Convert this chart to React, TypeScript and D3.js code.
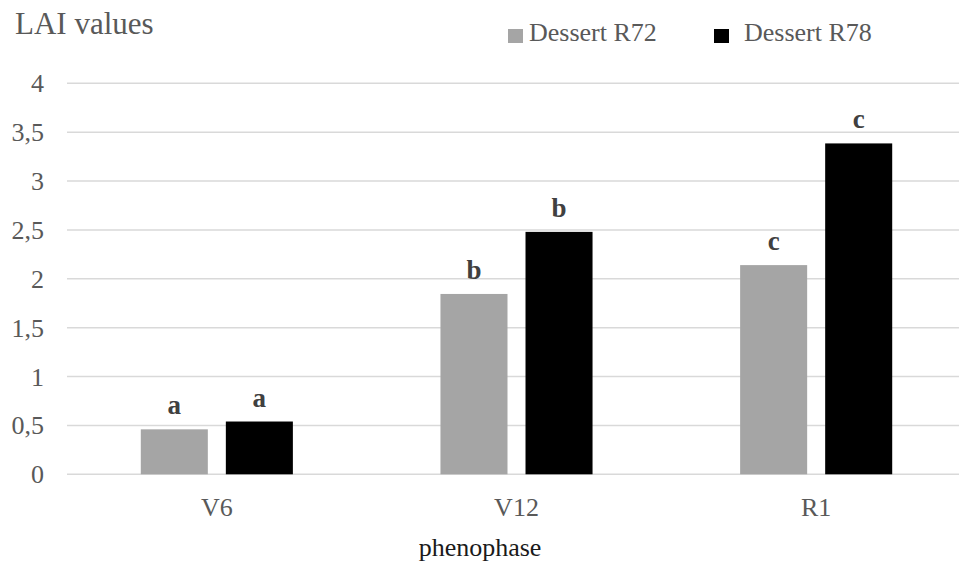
import React from "react";
import * as d3 from "d3";

const categories = ["V6", "V12", "R1"];
const seriesNames = ["Dessert R72", "Dessert R78"];
const seriesR72 = [0.46, 1.845, 2.14];
const seriesR78 = [0.54, 2.48, 3.385];
const lettersR72 = ["a", "b", "c"];
const lettersR78 = ["a", "b", "c"];
const yTicks = [0, 0.5, 1, 1.5, 2, 2.5, 3, 3.5, 4];
const colors = ["#a5a5a5", "#000000"];

const W = 959;
const H = 563;
const FONT = "'Liberation Serif', 'Times New Roman', serif";

export default function App() {
  const y = d3.scaleLinear().domain([0, 4]).range([474.3, 83.3]);
  const x0 = d3
    .scaleBand<string>()
    .domain(categories)
    .range([67, 966])
    .paddingInner(0.4925)
    .paddingOuter(0.24625);
  const x1 = d3
    .scaleBand<string>()
    .domain(seriesNames)
    .range([0, x0.bandwidth()])
    .paddingInner(0.2118);
  const series = [seriesR72, seriesR78];
  const letters = [lettersR72, lettersR78];
  const fmt = (v: number) => String(v).replace(".", ",");
  const ts = { fontFamily: FONT };

  return (
    <svg
      width={W}
      height={H}
      style={{ position: "absolute", left: 0, top: 0, background: "#fff", fontFamily: FONT }}
    >
      <rect x={0} y={0} width={W} height={H} fill="#fff" />
      {yTicks.map((t) => (
        <g key={t}>
          <line x1={67} x2={959} y1={y(t)} y2={y(t)} stroke="#d9d9d9" strokeWidth={1.4} />
          <text x={44} y={y(t) + 9} textAnchor="end" fontSize={26} fill="#595959" style={ts}>
            {fmt(t)}
          </text>
        </g>
      ))}
      {categories.map((c, i) => (
        <g key={c} transform={`translate(${x0(c)},0)`}>
          {seriesNames.map((s, j) => {
            const v = series[j][i];
            const bx = x1(s)!;
            return (
              <g key={s}>
                <rect
                  x={bx}
                  y={y(v)}
                  width={x1.bandwidth()}
                  height={y(0) - y(v)}
                  fill={colors[j]}
                />
                <text
                  x={bx + x1.bandwidth() / 2}
                  y={y(v) - 15}
                  textAnchor="middle"
                  fontSize={27}
                  fontWeight="bold"
                  fill="#404040"
                  style={ts}
                >
                  {letters[j][i]}
                </text>
              </g>
            );
          })}
          <text
            x={x0.bandwidth() / 2}
            y={516}
            textAnchor="middle"
            fontSize={26}
            fill="#595959"
            style={ts}
          >
            {c}
          </text>
        </g>
      ))}
      <text x={480} y={556} textAnchor="middle" fontSize={26} fill="#1a1a1a" style={ts}>
        phenophase
      </text>
      <text x={15} y={33.5} fontSize={31} fill="#595959" style={ts}>
        LAI values
      </text>
      {seriesNames.map((s, j) => {
        const lx = [508, 714][j];
        return (
          <g key={s}>
            <rect x={lx} y={29} width={15} height={14} fill={colors[j]} />
            <text x={lx + (j === 0 ? 21 : 30)} y={41} fontSize={26} fill="#595959" style={ts}>
              {s}
            </text>
          </g>
        );
      })}
    </svg>
  );
}
